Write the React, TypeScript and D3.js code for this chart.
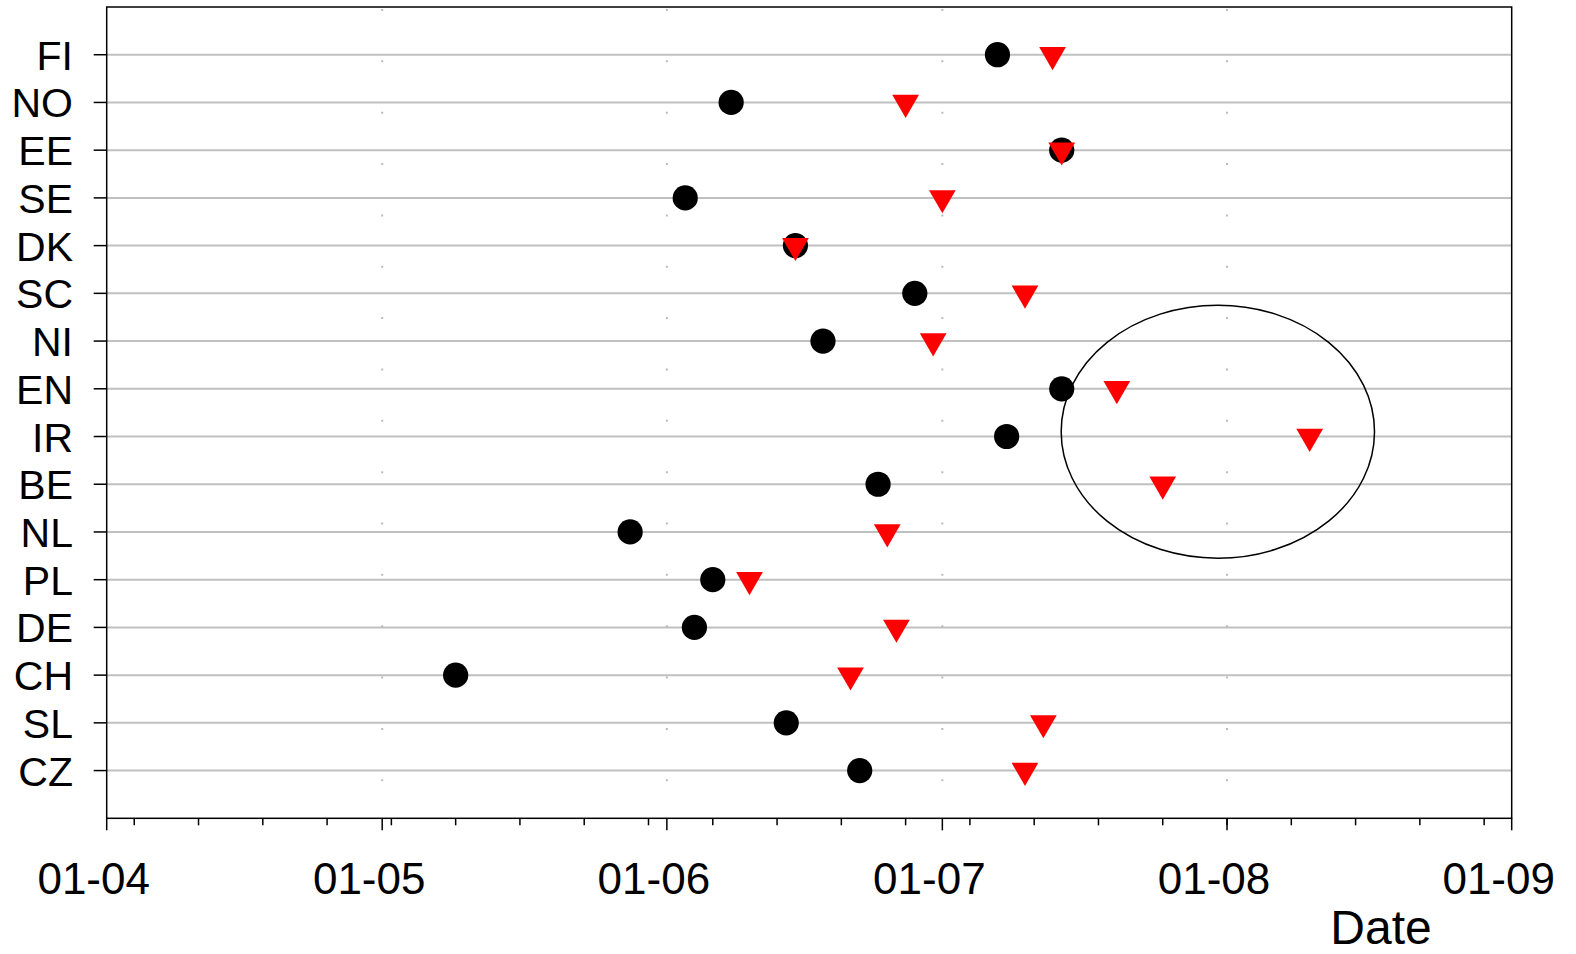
import React from "react";
import * as d3 from "d3";

const YEAR = 2010;
const countries = ["FI", "NO", "EE", "SE", "DK", "SC", "NI", "EN", "IR", "BE", "NL", "PL", "DE", "CH", "SL", "CZ"];
const circleDates = ["07-07", "06-08", "07-14", "06-03", "06-15", "06-28", "06-18", "07-14", "07-08", "06-24", "05-28", "06-06", "06-04", "05-09", "06-14", "06-22"];
const triangleDates = ["07-13", "06-27", "07-14", "07-01", "06-15", "07-10", "06-30", "07-20", "08-10", "07-25", "06-25", "06-10", "06-26", "06-21", "07-12", "07-10"];
const xTickLabels = ["01-04", "01-05", "01-06", "01-07", "01-08", "01-09"];
const domainStart = "04-01";
const domainEnd = "09-01";
const xAxisTitle = "Date";
// highlighted region: centre date, centre row, half-width in days, half-height in rows
const ellipseCenterDate = "07-31";
const ellipseCenterRow = "IR";
const ellipseRowShift = -0.1;
const ellipseRxDays = 17.06;
const ellipseRyRows = 2.65;

const parse = (s: string) => {
  const [m, d] = s.split("-").map(Number);
  return new Date(YEAR, m - 1, d);
};

const W = 1576;
const H = 954;
const M = { left: 106.7, top: 7, right: W - 1511.7, bottom: H - 818.3 };
const FONT = "'Liberation Sans', Arial, sans-serif";

export default function App() {
  const x0 = M.left, x1 = W - M.right, y0 = M.top, y1 = H - M.bottom;
  const x = d3.scaleTime().domain([parse(domainStart), parse(domainEnd)]).range([x0, x1]);
  const y = d3.scalePoint<string>().domain(countries).range([y0, y1]).padding(1);
  const majors = d3.timeMonth.range(parse(domainStart), d3.timeDay.offset(parse(domainEnd), 1));
  const minors = d3.timeSunday.range(parse(domainStart), d3.timeDay.offset(parse(domainEnd), 1));
  const tri = d3.symbol().type(d3.symbolTriangle).size(310)()!;
  const dayW = x(d3.timeDay.offset(parse(domainStart), 1)) - x(parse(domainStart));
  const ecx = x(parse(ellipseCenterDate));
  const ecy = (y(ellipseCenterRow) as number) + ellipseRowShift * y.step();

  return (
    <svg width={W} height={H} style={{ position: "absolute", left: 0, top: 0, display: "block", background: "#fff" }} fontFamily={FONT}>
      {/* horizontal gridlines */}
      {countries.map((c) => (
        <line key={"g" + c} x1={x0} x2={x1} y1={y(c)} y2={y(c)} stroke="#c0c0c0" strokeWidth={2} />
      ))}
      {/* dotted vertical month gridlines */}
      {majors.slice(1, -1).map((d, i) => (
        <line key={"v" + i} x1={x(d)} x2={x(d)} y1={y0} y2={y1} stroke="#bbbbbb" strokeWidth={2} strokeDasharray="2 49.35" strokeDashoffset={-2} />
      ))}
      {/* frame */}
      <rect x={x0} y={y0} width={x1 - x0} height={y1 - y0} fill="none" stroke="#000" strokeWidth={1.5} />
      {/* y ticks & labels */}
      {countries.map((c) => (
        <g key={"yl" + c}>
          <line x1={x0 - 13} x2={x0} y1={y(c)} y2={y(c)} stroke="#000" strokeWidth={1.5} />
          <text x={73} y={(y(c) as number) + 15} textAnchor="end" fontSize={41} fill="#000">{c}</text>
        </g>
      ))}
      {/* x ticks */}
      {minors.map((d, i) => (
        <line key={"mi" + i} x1={x(d)} x2={x(d)} y1={y1} y2={y1 + 7} stroke="#000" strokeWidth={1.5} />
      ))}
      {majors.map((d, i) => (
        <line key={"ma" + i} x1={x(d)} x2={x(d)} y1={y1} y2={y1 + 12} stroke="#000" strokeWidth={1.5} />
      ))}
      {majors.map((d, i) => (
        <text key={"xl" + i} x={x(d) - 13} y={894} textAnchor="middle" fontSize={44} fill="#000">{xTickLabels[i]}</text>
      ))}
      <text x={1381} y={944} textAnchor="middle" fontSize={48} fill="#000">{xAxisTitle}</text>
      {/* circles */}
      {countries.map((c, i) => (
        <circle key={"c" + c} cx={x(parse(circleDates[i]))} cy={y(c)} r={12.6} fill="#000" />
      ))}
      {/* triangles */}
      {countries.map((c, i) => (
        <path key={"t" + c} d={tri} transform={`translate(${x(parse(triangleDates[i]))},${y(c)}) rotate(180)`} fill="#ff0000" />
      ))}
      {/* ellipse annotation */}
      <ellipse cx={ecx} cy={ecy} rx={ellipseRxDays * dayW} ry={ellipseRyRows * y.step()} fill="none" stroke="#000" strokeWidth={1.5} />
    </svg>
  );
}
